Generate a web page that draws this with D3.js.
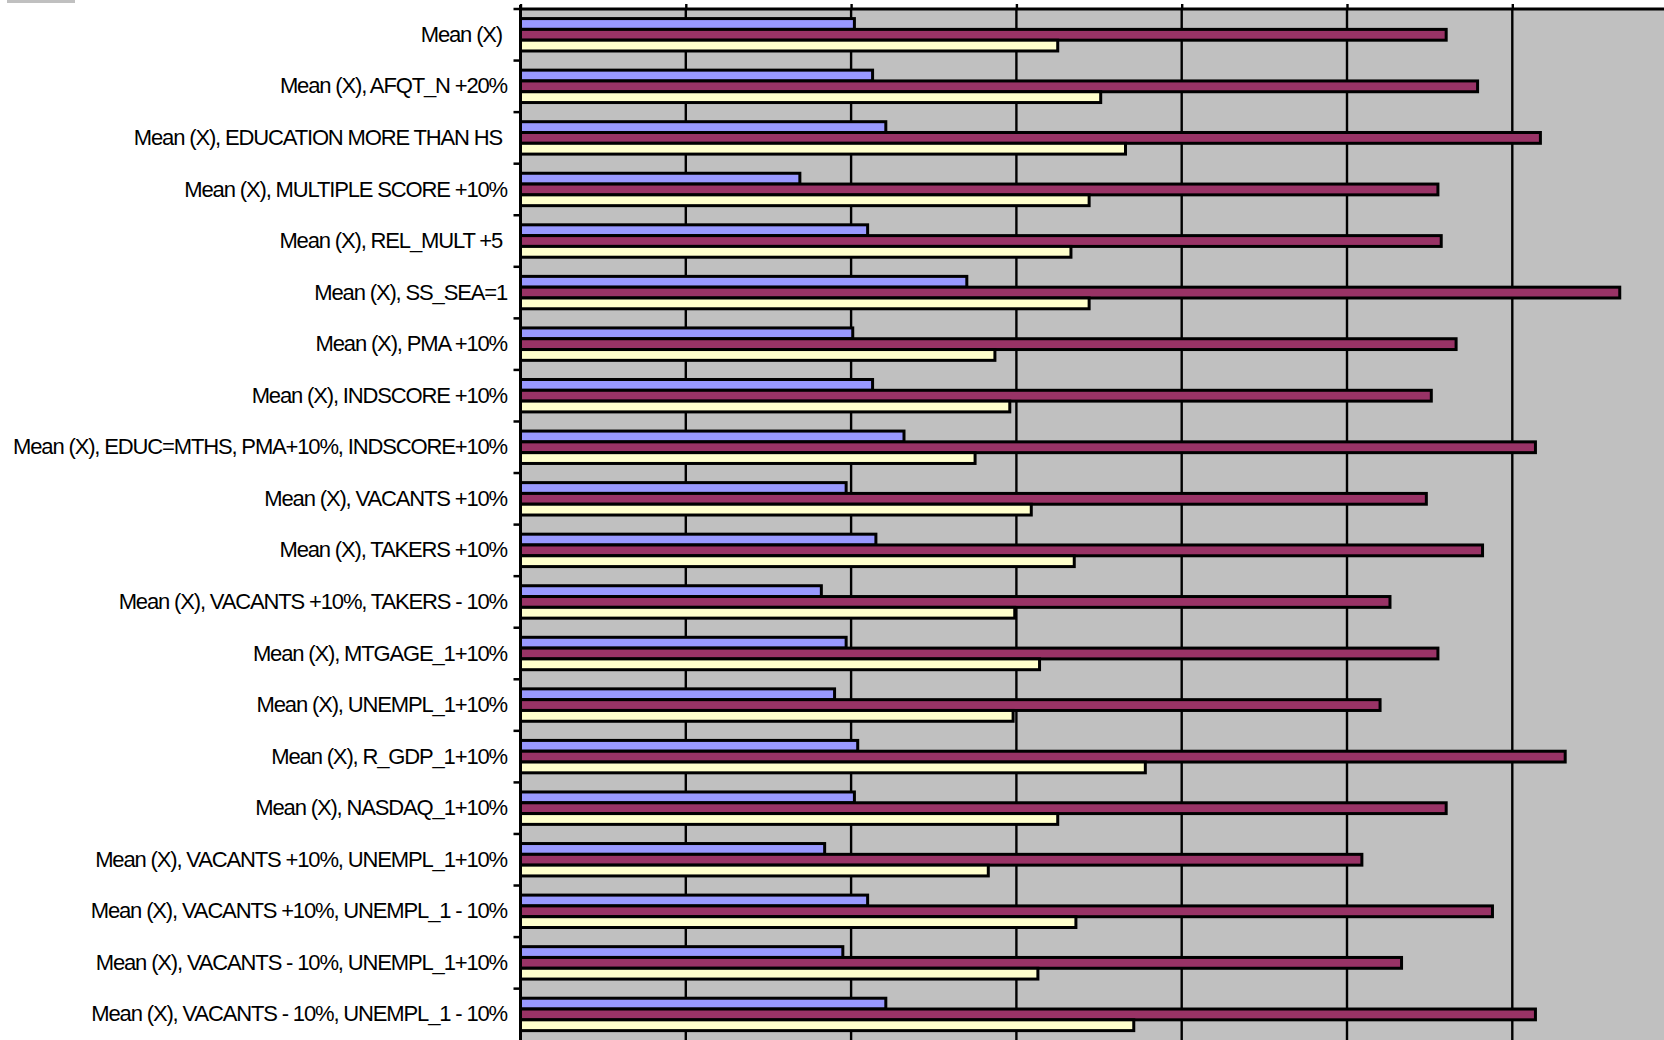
<html>
<head>
  <meta charset="utf-8">
  <script src="https://d3js.org/d3.v7.min.js"></script>
  <style>
    body { margin: 0; background: #fff; }
    .lbl { font-family: "Liberation Sans", Arial, sans-serif; font-size: 22px; letter-spacing: -1.15px; white-space: pre; }
  </style>
</head>
<body>
<svg id="chart" width="1664" height="1040"></svg>
<script>
// scenario labels, top to bottom
const categories = [
  "Mean (X) ",
  "Mean (X), AFQT_N +20%",
  "Mean (X), EDUCATION MORE THAN HS ",
  "Mean (X), MULTIPLE SCORE +10%",
  "Mean (X), REL_MULT +5 ",
  "Mean (X), SS_SEA=1",
  "Mean (X), PMA +10%",
  "Mean (X), INDSCORE +10%",
  "Mean (X), EDUC=MTHS, PMA+10%, INDSCORE+10%",
  "Mean (X), VACANTS +10%",
  "Mean (X), TAKERS +10%",
  "Mean (X), VACANTS +10%, TAKERS - 10%",
  "Mean (X), MTGAGE_1+10%",
  "Mean (X), UNEMPL_1+10%",
  "Mean (X), R_GDP_1+10%",
  "Mean (X), NASDAQ_1+10%",
  "Mean (X), VACANTS +10%, UNEMPL_1+10%",
  "Mean (X), VACANTS +10%, UNEMPL_1 - 10%",
  "Mean (X), VACANTS - 10%, UNEMPL_1+10%",
  "Mean (X), VACANTS - 10%, UNEMPL_1 - 10%"
];
const seriesNames = ["Series 1", "Series 2", "Series 3"];

// values in gridline units (axis labels are cut off in the source)
const series1 = [2.02, 2.13, 2.21, 1.69, 2.10, 2.70, 2.01, 2.13, 2.32, 1.97,
                 2.15, 1.82, 1.97, 1.90, 2.04, 2.02, 1.84, 2.10, 1.95, 2.21];
const series2 = [5.60, 5.79, 6.17, 5.55, 5.57, 6.65, 5.66, 5.51, 6.14, 5.48,
                 5.82, 5.26, 5.55, 5.20, 6.32, 5.60, 5.09, 5.88, 5.33, 6.14];
const series3 = [3.25, 3.51, 3.66, 3.44, 3.33, 3.44, 2.87, 2.96, 2.75, 3.09,
                 3.35, 2.99, 3.14, 2.98, 3.78, 3.25, 2.83, 3.36, 3.13, 3.71];
const gridTicks = [0, 1, 2, 3, 4, 5, 6, 7];

const colors = ["#9999ff", "#993366", "#ffffcc"];
const allSeries = [series1, series2, series3];

const svg = d3.select("#chart");
const plotLeft = 520.5, plotTop = 9, unit = 165.3;

const x = d3.scaleLinear().domain([0, 7]).range([plotLeft, plotLeft + 7 * unit]);
const y = d3.scaleBand().domain(categories).range([plotTop, plotTop + 20 * 51.56]);
const ySub = d3.scaleBand().domain(seriesNames).range([0, y.bandwidth()])
    .paddingInner(0).paddingOuter(0.887);

// little grey remnant top-left
svg.append("rect").attr("x", 7).attr("y", 0).attr("width", 68).attr("height", 3)
    .attr("fill", "#c0c0c0");

// plot area
svg.append("rect").attr("x", plotLeft).attr("y", plotTop)
    .attr("width", 1664 - plotLeft).attr("height", 1040 - plotTop)
    .attr("fill", "#c0c0c0");

// vertical gridlines
svg.append("g").selectAll("line").data(gridTicks.slice(1)).join("line")
    .attr("x1", d => x(d)).attr("x2", d => x(d))
    .attr("y1", plotTop).attr("y2", 1040)
    .attr("stroke", "#000").attr("stroke-width", 2.4);

// bars
const groups = svg.append("g").selectAll("g").data(categories).join("g")
    .attr("transform", d => `translate(0,${y(d)})`);

groups.selectAll("rect")
    .data((d, i) => seriesNames.map((s, k) => ({ s, v: allSeries[k][i], k })))
    .join("rect")
    .attr("x", x(0))
    .attr("y", d => ySub(d.s))
    .attr("width", d => x(d.v) - x(0))
    .attr("height", ySub.bandwidth())
    .attr("fill", d => colors[d.k])
    .attr("stroke", "#000").attr("stroke-width", 3);

// top axis with outward ticks, no labels
svg.append("g").attr("transform", `translate(0,${plotTop})`)
    .call(d3.axisTop(x).tickValues(gridTicks).tickFormat("").tickSize(5).tickSizeOuter(0))
    .call(g => g.select(".domain").remove())
    .call(g => g.selectAll("line").attr("stroke-width", 2.4));
svg.append("line").attr("x1", plotLeft).attr("x2", 1664).attr("y1", plotTop).attr("y2", plotTop)
    .attr("stroke", "#000").attr("stroke-width", 3);

// left axis: ticks between categories
svg.append("line").attr("x1", plotLeft).attr("x2", plotLeft).attr("y1", plotTop - 4).attr("y2", 1040)
    .attr("stroke", "#000").attr("stroke-width", 3);
svg.append("g").selectAll("line").data(categories).join("line")
    .attr("x1", plotLeft - 7).attr("x2", plotLeft)
    .attr("y1", d => y(d)).attr("y2", d => y(d))
    .attr("stroke", "#000").attr("stroke-width", 2.5);

// category labels
svg.append("g").selectAll("text").data(categories).join("text")
    .attr("class", "lbl")
    .attr("x", 507)
    .attr("y", d => y(d) + y.bandwidth() / 2)
    .attr("dy", "0.32em")
    .attr("text-anchor", "end")
    .text(d => d);
</script>
</body>
</html>
